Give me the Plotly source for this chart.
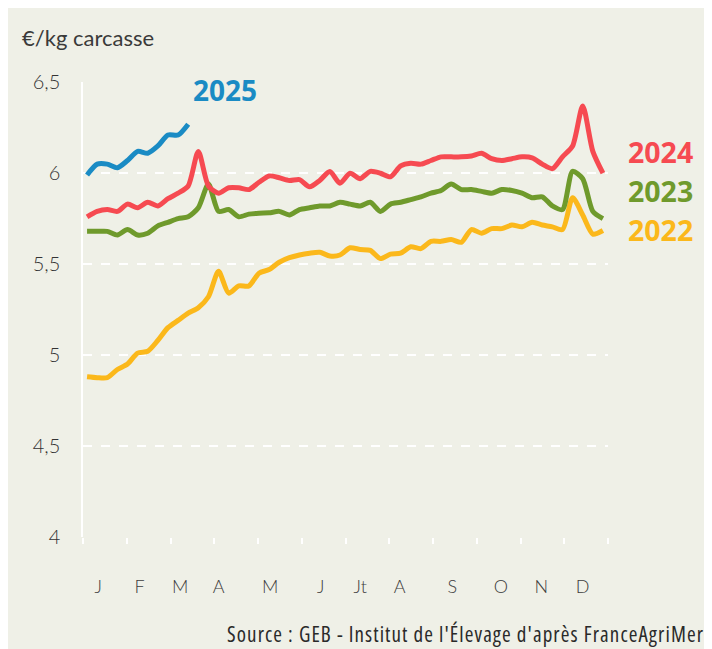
import plotly.graph_objects as go

# ---- data (weekly prices, €/kg carcasse) ----
weeks = list(range(1, 53))

y2022 = [4.88, 4.875, 4.875, 4.92, 4.95, 5.01, 5.02, 5.08, 5.15, 5.19,
         5.23, 5.26, 5.32, 5.46, 5.34, 5.38, 5.38, 5.45, 5.47, 5.51,
         5.535, 5.55, 5.56, 5.565, 5.545, 5.55, 5.59, 5.58, 5.575, 5.53,
         5.555, 5.56, 5.595, 5.585, 5.625, 5.625, 5.635, 5.62, 5.69, 5.67,
         5.695, 5.695, 5.715, 5.705, 5.73, 5.715, 5.705, 5.69, 5.865, 5.77,
         5.665, 5.685]

y2023 = [5.68, 5.68, 5.68, 5.66, 5.69, 5.66, 5.67, 5.71, 5.73, 5.75,
         5.76, 5.81, 5.94, 5.79, 5.80, 5.76, 5.775, 5.78, 5.782, 5.79,
         5.77, 5.80, 5.81, 5.82, 5.82, 5.84, 5.83, 5.82, 5.84, 5.79,
         5.83, 5.84, 5.855, 5.87, 5.89, 5.905, 5.94, 5.91, 5.91, 5.90,
         5.89, 5.91, 5.905, 5.89, 5.865, 5.87, 5.82, 5.80, 6.01, 5.97,
         5.79, 5.75]

y2024 = [5.76, 5.79, 5.80, 5.79, 5.83, 5.81, 5.84, 5.82, 5.86, 5.89,
         5.93, 6.12, 5.93, 5.89, 5.92, 5.92, 5.91, 5.95, 5.985, 5.975,
         5.96, 5.965, 5.925, 5.96, 6.01, 5.945, 6.0, 5.97, 6.01, 6.0,
         5.98, 6.04, 6.055, 6.05, 6.07, 6.09, 6.09, 6.09, 6.095, 6.11,
         6.08, 6.07, 6.08, 6.09, 6.085, 6.05, 6.025, 6.09, 6.15, 6.37,
         6.12, 6.0]

weeks2025 = list(range(1, 12))
y2025 = [5.99, 6.05, 6.05, 6.03, 6.07, 6.12, 6.11, 6.15, 6.21, 6.21, 6.27]

month_labels = ["J", "F", "M", "A", "M", "J", "Jt", "A", "S", "O", "N", "D"]
month_label_pos = [2.1, 6.2, 10.2, 14.0, 19.1, 24.1, 28.0, 31.9, 37.1, 41.9, 45.9, 50.0]

y_ticks = [4, 4.5, 5, 5.5, 6, 6.5]
y_ticktext = ["4", "4,5", "5", "5,5", "6", "6,5"]

x_range = [0.6, 52.5]
y_range = [3.998, 6.502]
n_tick_marks = 13

# ---- styles ----
BG = "#eff0e7"
C2022 = "#fbb81b"
C2023 = "#6f9a2c"
C2024 = "#f64a51"
C2025 = "#1a8bc4"
TXT = "#3a3a3a"

fig = go.Figure()

series = [
    (weeks, y2022, C2022, "2022"),
    (weeks, y2023, C2023, "2023"),
    (weeks, y2024, C2024, "2024"),
    (weeks2025, y2025, C2025, "2025"),
]
for xs, ys, col, name in series:
    fig.add_trace(go.Scatter(
        x=xs, y=ys, mode="lines", name=name,
        line=dict(color=col, width=5, shape="spline", smoothing=0.7),
        hoverinfo="skip", showlegend=False,
    ))

# invisible trace on xaxis2 carrying the small tick marks
step = (x_range[1] - x_range[0]) / (n_tick_marks - 1)
tick_marks = [x_range[0] + i * step for i in range(n_tick_marks)]
fig.add_trace(go.Scatter(x=[x_range[0]], y=[4], xaxis="x2", mode="markers",
                         marker=dict(opacity=0), hoverinfo="skip", showlegend=False))

fig.update_layout(
    width=704, height=641,
    margin=dict(l=75, r=104, t=74, b=112),
    paper_bgcolor=BG,
    plot_bgcolor=BG,
    font=dict(family="Lato, Open Sans, sans-serif", color=TXT),
    xaxis=dict(
        range=x_range, tickmode="array", tickvals=month_label_pos, ticktext=month_labels,
        showgrid=False, zeroline=False, showline=False, ticks="",
        ticklabelstandoff=37,
        tickfont=dict(size=18, color="#3c3c3c", family="Lato", weight=300),
    ),
    xaxis2=dict(
        range=x_range, overlaying="x", anchor="y", side="bottom",
        tickmode="array", tickvals=tick_marks, showticklabels=False,
        ticks="outside", ticklen=6, tickwidth=1.5, tickcolor="white",
        showgrid=False, zeroline=False, showline=False,
    ),
    yaxis=dict(
        range=y_range, tickmode="array", tickvals=y_ticks, ticktext=y_ticktext,
        showgrid=True, gridcolor="white", griddash="dash", gridwidth=1.5,
        zeroline=False, showline=True, linecolor="white", linewidth=1.5,
        ticks="", ticklabelstandoff=17,
        tickfont=dict(size=20, color="#333333", family="Lato", weight=300),
    ),
)

ann = []
ann.append(dict(text="2025", x=(225 - 83) / 525, y=(537 - 90) / 455,
                xref="paper", yref="paper", xanchor="center", yanchor="middle",
                showarrow=False,
                font=dict(size=28, color=C2025, family="Open Sans", weight=700)))
for txt, ypx, col in [("2024", 152, C2024), ("2023", 191, C2023), ("2022", 230, C2022)]:
    ann.append(dict(text=txt, x=(626 - 83) / 525, y=(537 - ypx) / 455,
                    xref="paper", yref="paper", xanchor="left", yanchor="middle",
                    showarrow=False,
                    font=dict(size=28.5, color=col, family="Open Sans", weight=700)))
ann.append(dict(text="€/kg carcasse", x=(20 - 83) / 525, y=(537 - 38) / 455,
                xref="paper", yref="paper", xanchor="left", yanchor="middle",
                showarrow=False, font=dict(size=22, color=TXT, family="Lato", weight=400)))
ann.append(dict(text="<span style='font-stretch:condensed;letter-spacing:1.1px'>Source : GEB - Institut de l'Élevage d'après FranceAgriMer</span>",
                x=(706 - 83) / 525, y=(537 - 634) / 455,
                xref="paper", yref="paper", xanchor="right", yanchor="middle",
                showarrow=False,
                font=dict(size=21, color="#2a2a2a", family="Open Sans", weight=500)))
fig.update_layout(annotations=ann)

fig.write_html("out.html")
